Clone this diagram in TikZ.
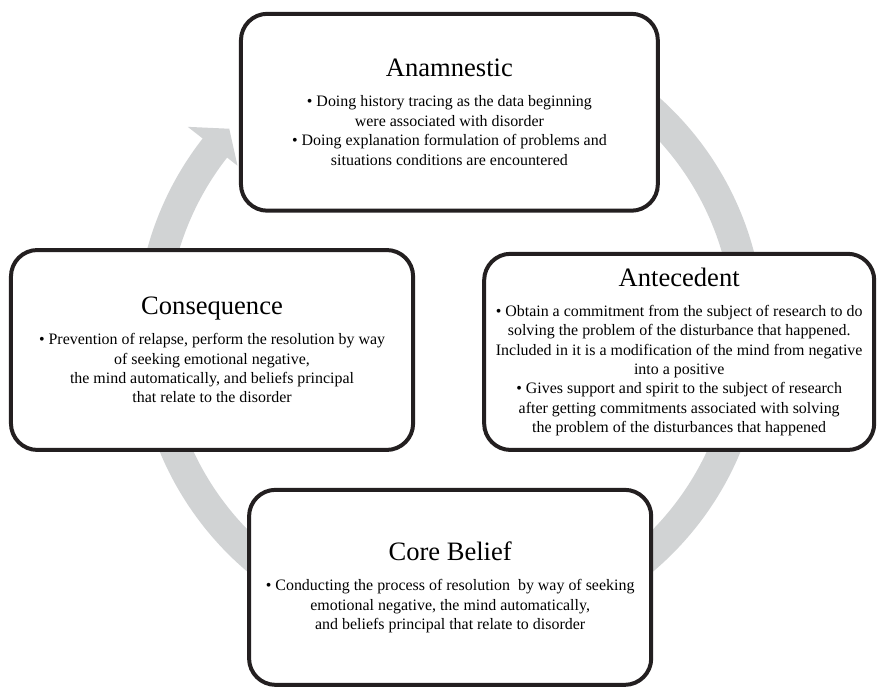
\documentclass[tikz,border=0pt]{standalone}
\usepackage{fontspec}
\setmainfont{Liberation Serif}
\usepackage{xcolor}
\usepackage{tikz}
\usetikzlibrary{calc}
\definecolor{cyclegrey}{RGB}{209,211,212}
\definecolor{stageblack}{RGB}{35,31,32}
\newcommand{\stitle}[1]{{\fontsize{20}{24}\selectfont #1}}

\begin{document}
\begin{tikzpicture}[
  font=\fontsize{12}{14.6}\selectfont,
  stage/.style={draw=stageblack, fill=white, rectangle, rounded corners=0.7cm, line width=3pt, align=center, inner sep=0pt},
  ring/.style={draw=cyclegrey, line width=0.82cm},
]
\useasboundingbox (0,0) rectangle (23.23,18.2);
\coordinate (hub) at (11.91,9.42);
\draw[ring] ($(hub)+(90:7.9)$) arc[start angle=90, end angle=-218.5, radius=7.9];
\fill[cyclegrey] ($(hub)+(142:8.81)$) -- ($(hub)+(137.4:7.94)$) -- ($(hub)+(142:7.14)$) -- cycle;
\node[stage, minimum width=11.03cm, minimum height=5.21cm] (anam) at (11.89,15.23)
  {\stitle{Anamnestic}\\[8pt]
   • Doing history tracing as the data beginning\\
   were associated with disorder\\
   • Doing explanation formulation of problems and\\
   situations conditions are encountered};
\node[stage, minimum width=10.32cm, minimum height=5.19cm] (antec) at (17.97,8.89)
  {\stitle{Antecedent}\\[8pt]
   • Obtain a commitment from the subject of research to do\\
   solving the problem of the disturbance that happened.\\
   Included in it is a modification of the mind from negative\\
   into a positive\\
   • Gives support and spirit to the subject of research\\
   after getting commitments associated with solving\\
   the problem of the disturbances that happened};
\node[stage, minimum width=10.64cm, minimum height=5.16cm] (core) at (11.91,2.66)
  {\stitle{Core Belief}\\[8pt]
   • Conducting the process of resolution\ \ by way of seeking\\
   emotional negative, the mind automatically,\\
   and beliefs principal that relate to disorder};
\node[stage, minimum width=10.64cm, minimum height=5.29cm] (conseq) at (5.61,8.94)
  {\stitle{Consequence}\\[8pt]
   • Prevention of relapse, perform the resolution by way\\
   of seeking emotional negative,\\
   the mind automatically, and beliefs principal\\
   that relate to the disorder};
\end{tikzpicture}
\end{document}
